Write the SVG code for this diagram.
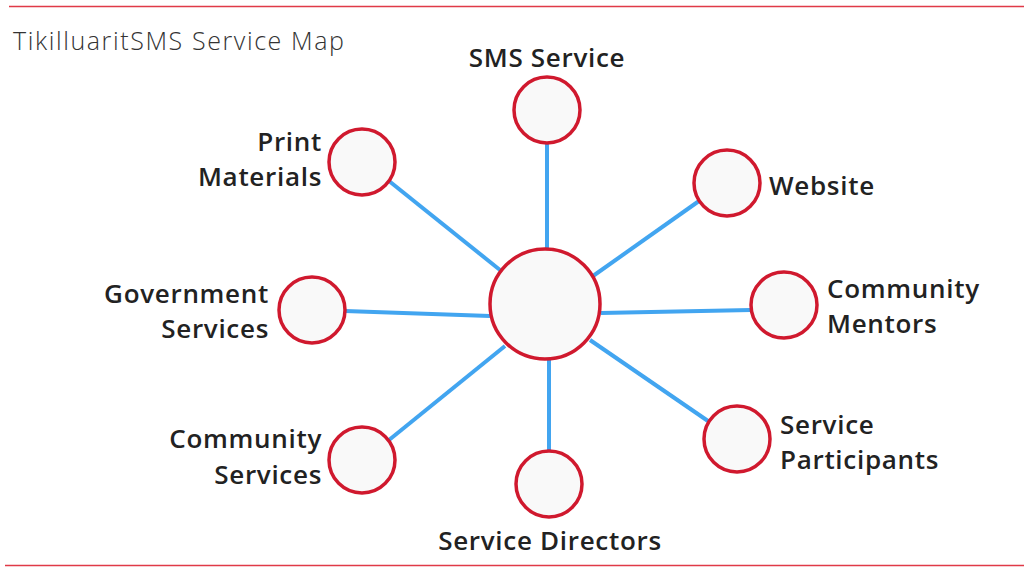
<svg xmlns="http://www.w3.org/2000/svg" width="1024" height="576" viewBox="0 0 1024 576">
<style>
.rule{stroke:#e03a47;stroke-width:1.5}
.title{font-family:"Open Sans",Lato,sans-serif;font-size:25px;font-weight:300;fill:#333;letter-spacing:1.6px}
.lbl{font-family:"Open Sans",Lato,sans-serif;font-size:26px;font-weight:600;fill:#222;letter-spacing:0.7px}
.node{fill:#f9f9f9;stroke:#d0192e;stroke-width:3.5}
.edge{stroke:#42a5f0;stroke-width:4;fill:none}
</style>
<rect width="1024" height="576" fill="#fff"/>
<line class="rule" x1="9" y1="6.5" x2="1024" y2="6.5"/>
<line class="rule" x1="5" y1="565.5" x2="1024" y2="565.5"/>
<text class="title" x="13" y="50">TikilluaritSMS Service Map</text>
<g id="connectors">
<line class="edge" x1="547" y1="143" x2="547" y2="248"/>
<line class="edge" x1="699" y1="201" x2="593" y2="276"/>
<line class="edge" x1="751" y1="310" x2="601" y2="313"/>
<line class="edge" x1="708" y1="421" x2="590" y2="340"/>
<line class="edge" x1="549" y1="451" x2="549" y2="360"/>
<line class="edge" x1="389" y1="440" x2="505" y2="346"/>
<line class="edge" x1="345" y1="311" x2="490" y2="316"/>
<line class="edge" x1="389" y1="181" x2="500" y2="270"/>
</g>
<g id="hub"><circle class="node" cx="545" cy="304" r="55"/></g>
<g id="sms"><circle class="node" cx="547" cy="110" r="33"/><text class="lbl" x="547" y="67" text-anchor="middle">SMS Service</text></g>
<g id="website"><circle class="node" cx="727" cy="183" r="33"/><text class="lbl" x="769" y="195">Website</text></g>
<g id="mentors"><circle class="node" cx="784" cy="305" r="33"/><text class="lbl" x="827" y="298">Community</text><text class="lbl" x="827" y="333">Mentors</text></g>
<g id="participants"><circle class="node" cx="737" cy="439" r="33"/><text class="lbl" x="780" y="434">Service</text><text class="lbl" x="780" y="469">Participants</text></g>
<g id="directors"><circle class="node" cx="549" cy="484" r="33"/><text class="lbl" x="550" y="550" text-anchor="middle">Service Directors</text></g>
<g id="community-services"><circle class="node" cx="362" cy="460" r="33"/><text class="lbl" x="322" y="448" text-anchor="end">Community</text><text class="lbl" x="322" y="484" text-anchor="end">Services</text></g>
<g id="government"><circle class="node" cx="312" cy="310" r="33"/><text class="lbl" x="269" y="303" text-anchor="end">Government</text><text class="lbl" x="269" y="338" text-anchor="end">Services</text></g>
<g id="print"><circle class="node" cx="362" cy="162" r="33"/><text class="lbl" x="322" y="151" text-anchor="end">Print</text><text class="lbl" x="322" y="186" text-anchor="end">Materials</text></g>
</svg>
